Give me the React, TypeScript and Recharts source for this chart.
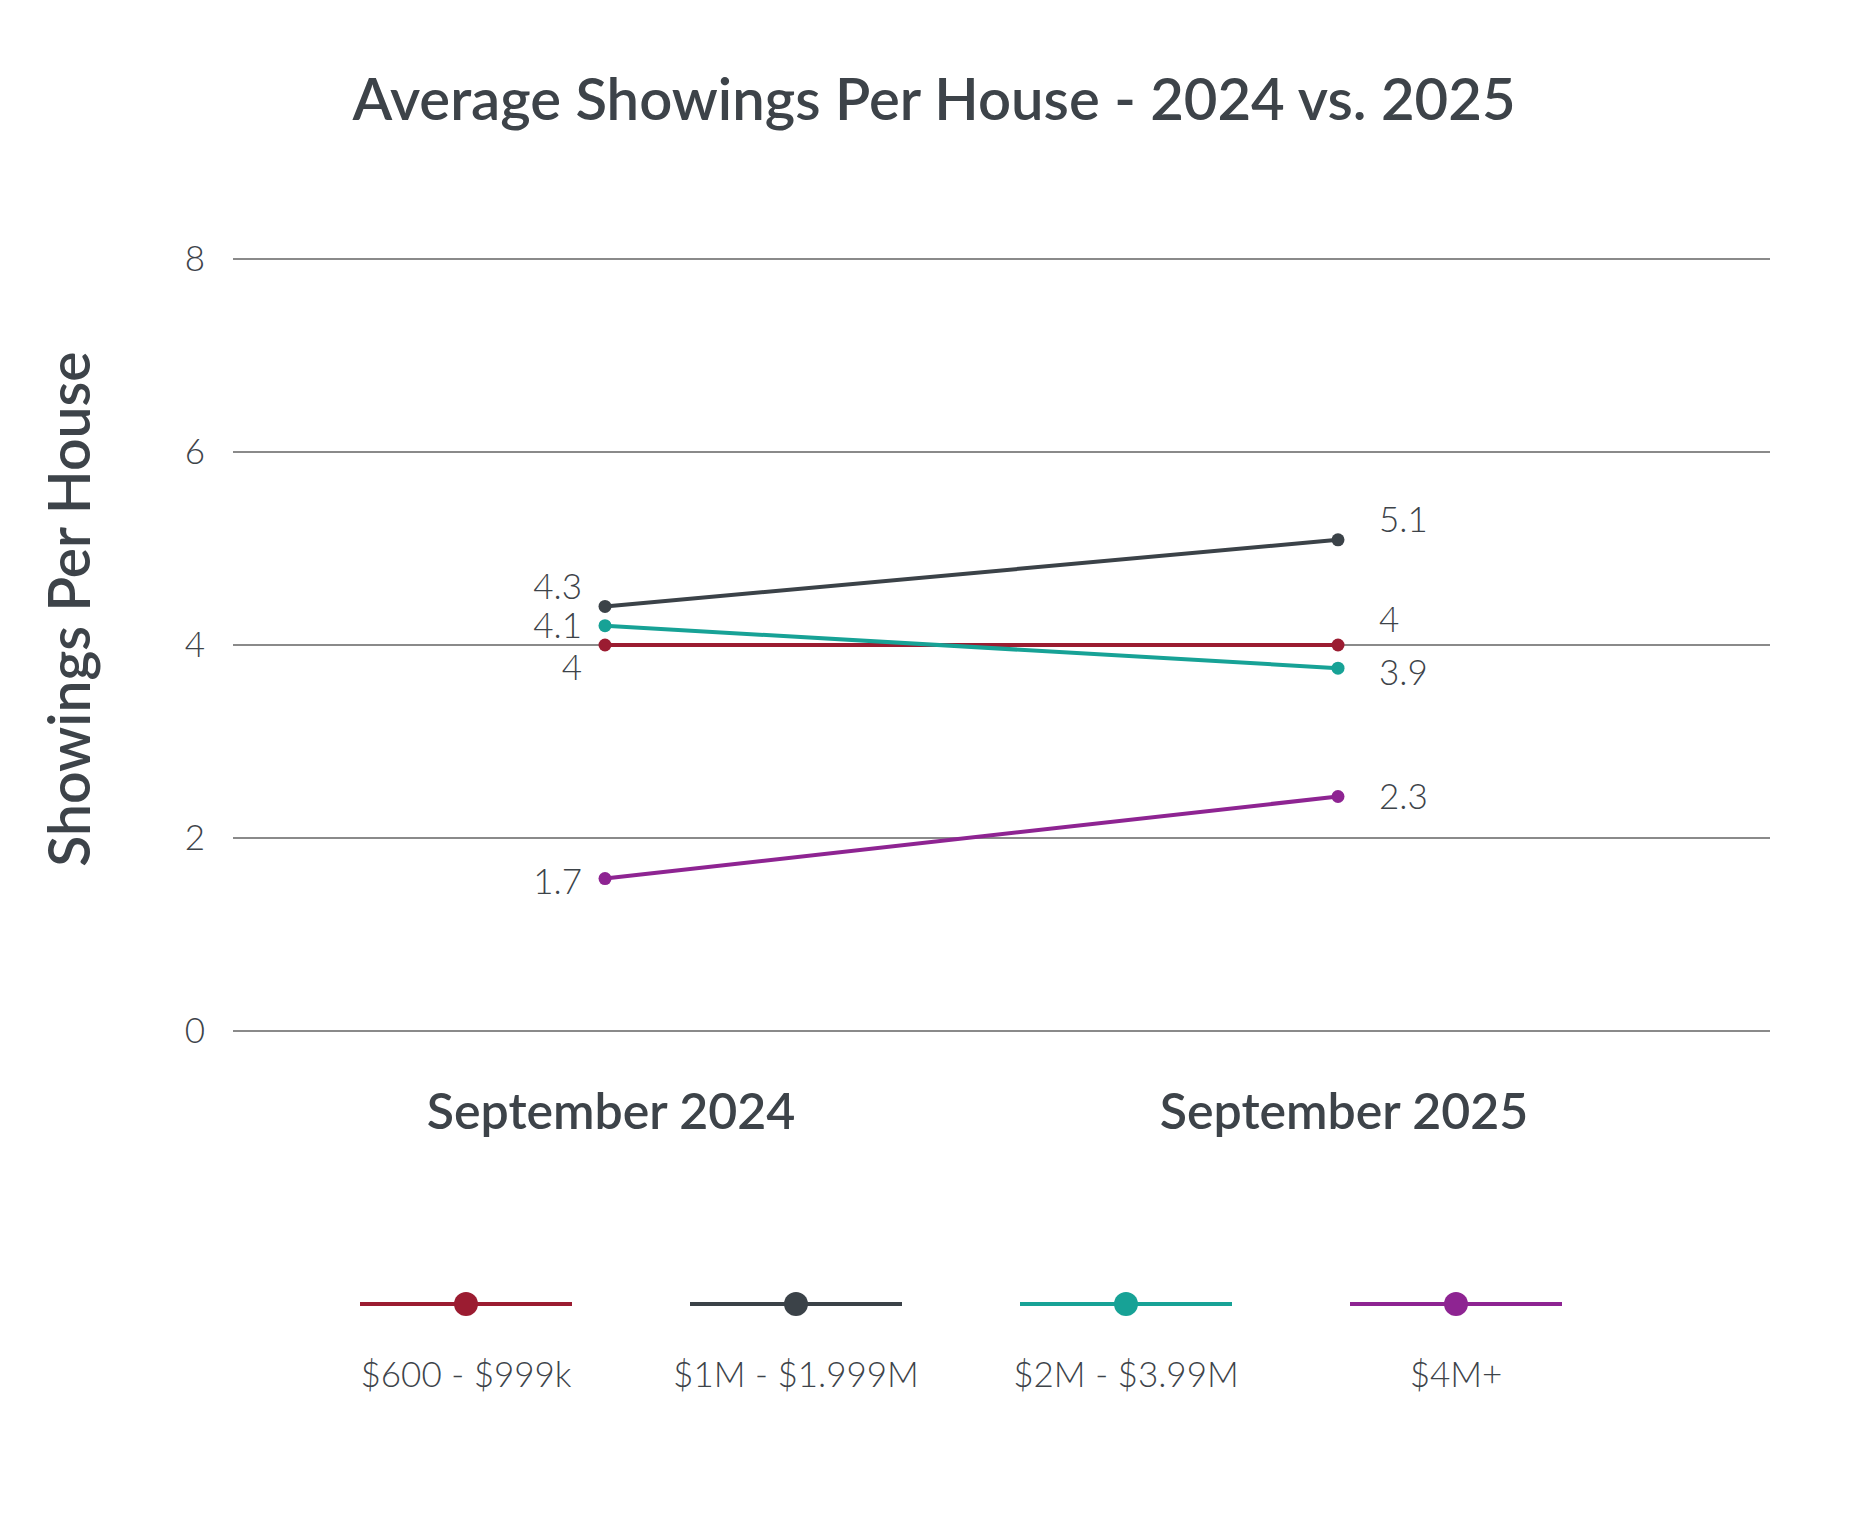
import React from 'react';
import { LineChart, Line, XAxis, YAxis, CartesianGrid, LabelList, Legend } from 'recharts';

// categories
const months = ['September 2024', 'September 2025'];

// plotted positions
const tier600 = [4.0, 4.0];
const tier1m = [4.4, 5.09];
const tier2m = [4.2, 3.76];
const tier4m = [1.58, 2.43];

// printed value labels
const labels600 = ['4', '4'];
const labels1m = ['4.3', '5.1'];
const labels2m = ['4.1', '3.9'];
const labels4m = ['1.7', '2.3'];

const yTicks = [0, 2, 4, 6, 8];

const TEXT = '#3d4349';
const FONT = 'Lato, "Open Sans", sans-serif';

const data = months.map((month, i) => ({
  month,
  t600: tier600[i],
  t1m: tier1m[i],
  t2m: tier2m[i],
  t4m: tier4m[i],
}));

// label offsets from each point: [first month, second month]
const series = [
  { key: 't600', name: '$600 - $999k', color: '#9b1c31', labels: labels600, dy: [22, -26] },
  { key: 't1m', name: '$1M - $1.999M', color: '#3b4248', labels: labels1m, dy: [-20, -20] },
  { key: 't2m', name: '$2M - $3.99M', color: '#17a296', labels: labels2m, dy: [0, 4] },
  { key: 't4m', name: '$4M+', color: '#8e2492', labels: labels4m, dy: [3, 0] },
];

const makeLabel = (labels: string[], dys: number[]) => (props: any) => {
  const { x, y, index } = props;
  const first = index === 0;
  return (
    <text
      x={first ? x - 23 : x + 41}
      y={y + dys[index]}
      dy="0.36em"
      textAnchor={first ? 'end' : 'start'}
      fill={TEXT}
      fontFamily={FONT}
      fontSize={35}
      fontWeight={300}
    >
      {labels[index]}
    </text>
  );
};

const YTitle = (props: any) => {
  const { viewBox } = props;
  const cx = viewBox.x + 69;
  const cy = viewBox.y + viewBox.height / 2 - 36;
  return (
    <text
      x={cx}
      y={cy}
      transform={`rotate(-90, ${cx}, ${cy})`}
      textAnchor="middle"
      dy="0.36em"
      fill={TEXT}
      fontFamily={FONT}
      fontSize={57}
      fontWeight={600}
    >
      Showings Per House
    </text>
  );
};

const renderLegend = (props: any) => {
  const payload: any[] = props.payload || [];
  // keep the series order rather than the sorted one
  const items = series.map((s) => {
    const entry = payload.find((p) => p.dataKey === s.key);
    return { name: s.name, color: entry ? entry.color : s.color };
  });
  return (
    <div style={{ display: 'flex', width: 1320 }}>
      {items.map((entry) => (
        <div
          key={entry.name}
          style={{ width: 330, display: 'flex', flexDirection: 'column', alignItems: 'center' }}
        >
          <svg width={212} height={30}>
            <line x1={0} y1={15} x2={212} y2={15} stroke={entry.color} strokeWidth={4} />
            <circle cx={106} cy={15} r={12} fill={entry.color} />
          </svg>
          <div
            style={{
              marginTop: 32,
              fontFamily: FONT,
              fontSize: 35,
              fontWeight: 300,
              color: TEXT,
              lineHeight: '44px',
            }}
          >
            {entry.name}
          </div>
        </div>
      ))}
    </div>
  );
};

export default function App() {
  return (
    <div style={{ position: 'absolute', left: 0, top: 0, width: 1868, height: 1525, background: '#fff' }}>
      <div
        style={{
          position: 'absolute',
          top: 66,
          left: 0,
          width: 1868,
          textAlign: 'center',
          fontFamily: FONT,
          fontSize: 58,
          fontWeight: 600,
          color: TEXT,
          lineHeight: '64px',
        }}
      >
        Average Showings Per House - 2024 vs. 2025
      </div>
      <LineChart
        width={1868}
        height={1525}
        data={data}
        margin={{ top: 259, right: 98, bottom: 464, left: 0 }}
      >
        <CartesianGrid horizontal vertical={false} stroke="#8a8a8a" strokeWidth={2} />
        <XAxis
          dataKey="month"
          height={30}
          axisLine={false}
          tickLine={false}
          tickSize={0}
          tickMargin={62}
          padding={{ left: 372, right: 432 }}
          tick={{ fill: TEXT, fontFamily: FONT, fontSize: 50, fontWeight: 600, dx: 6 }}
          interval={0}
        />
        <YAxis
          width={233}
          domain={[0, 8]}
          ticks={yTicks}
          axisLine={false}
          tickLine={false}
          tickSize={0}
          tickMargin={28}
          tick={{ fill: TEXT, fontFamily: FONT, fontSize: 35, fontWeight: 300 }}
          label={<YTitle />}
        />
        <Legend
          layout="horizontal"
          verticalAlign="middle"
          align="center"
          content={renderLegend}
          wrapperStyle={{ position: 'absolute', top: 1289, left: 301, width: 1320 }}
        />
        {series.map((s) => (
          <Line
            key={s.key}
            type="linear"
            dataKey={s.key}
            name={s.name}
            stroke={s.color}
            strokeWidth={4}
            dot={{ r: 6.5, fill: s.color, stroke: 'none' }}
            activeDot={false}
            isAnimationActive={false}
          >
            <LabelList dataKey={s.key} content={makeLabel(s.labels, s.dy)} />
          </Line>
        ))}
      </LineChart>
    </div>
  );
}
